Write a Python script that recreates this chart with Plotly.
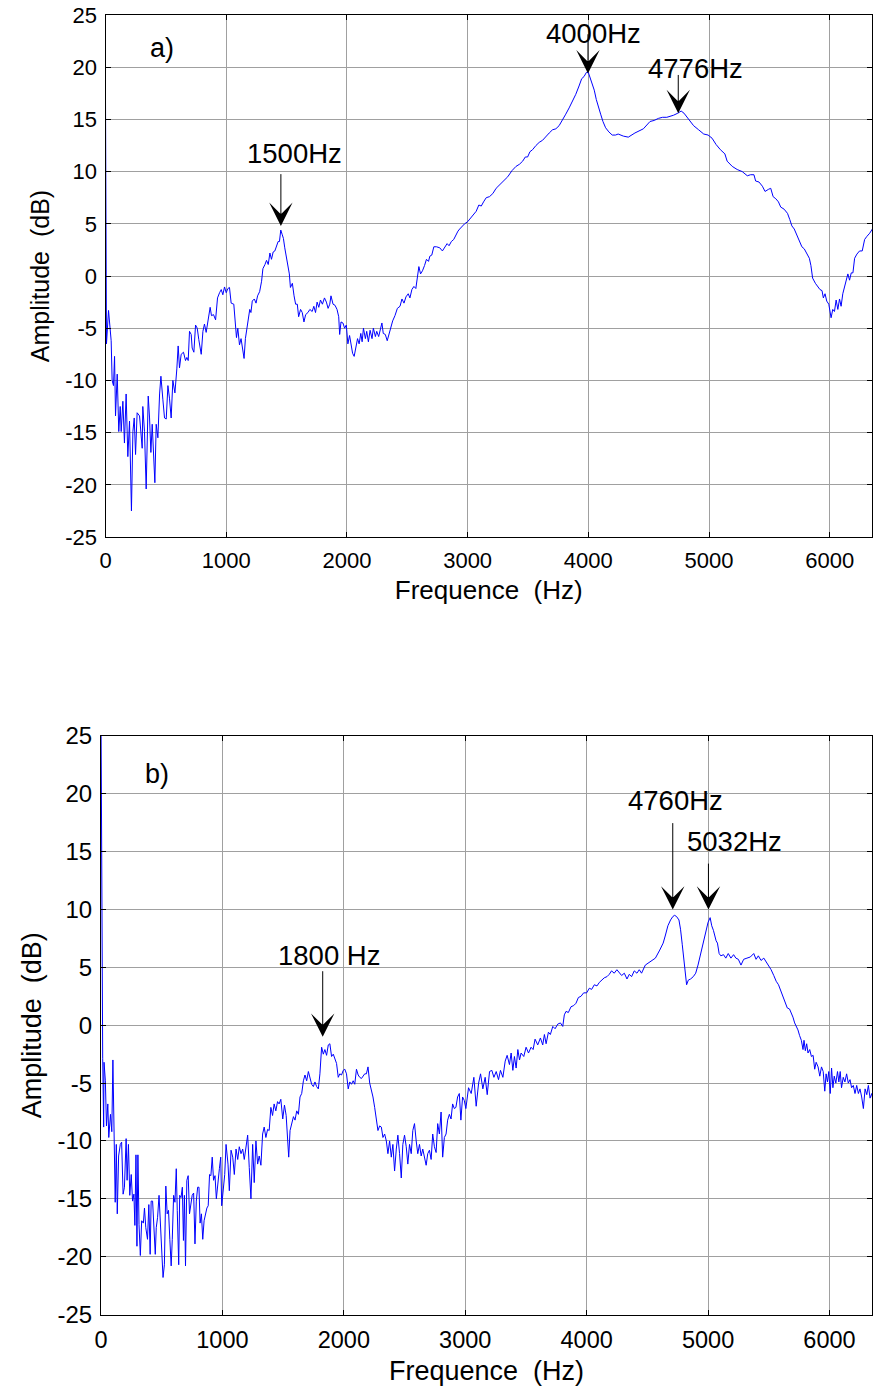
import plotly.graph_objects as go

# ---------------- data: panel a) ----------------
a_freq = [0, 5, 8, 25, 47, 55, 66, 75, 83, 97, 110, 122, 130, 144, 157, 171, 185, 199, 215, 227,
          238, 249, 262, 282, 304, 309, 323, 337, 354, 365, 376, 387, 398, 409, 420, 434, 448, 459,
          475, 489, 503, 517, 530, 544, 558, 575, 591, 602, 613, 627, 646, 663, 674, 685, 696, 710,
          718, 732, 746, 760, 773, 793, 807, 820, 834, 848, 867, 878, 895, 912, 928, 945, 959, 972,
          986, 1000, 1014, 1027, 1041, 1063, 1074, 1085, 1096, 1110, 1123, 1134, 1148, 1159, 1173,
          1184, 1195, 1205, 1216, 1233, 1247, 1260, 1277, 1293, 1304, 1321, 1334, 1348, 1362, 1375,
          1389, 1403, 1416, 1430, 1441, 1452, 1463, 1474, 1485, 1496, 1507, 1523, 1532, 1548, 1562,
          1575, 1589, 1600, 1616, 1630, 1644, 1658, 1677, 1693, 1712, 1726, 1740, 1753, 1767, 1781,
          1797, 1814, 1830, 1844, 1858, 1868, 1885, 1901, 1918, 1932, 1940, 1951, 1967, 1981, 1995,
          2008, 2022, 2033, 2047, 2060, 2074, 2088, 2101, 2115, 2126, 2137, 2153, 2164, 2178, 2192,
          2208, 2219, 2236, 2247, 2263, 2279, 2290, 2301, 2318, 2334, 2357, 2379, 2398, 2418, 2440,
          2456, 2473, 2489, 2508, 2522, 2538, 2555, 2571, 2582, 2596, 2610, 2626, 2643, 2659, 2676,
          2687, 2703, 2720, 2742, 2769, 2791, 2810, 2830, 2846, 2865, 2885, 2901, 2920, 2934, 2956,
          2975, 3000, 3022, 3044, 3071, 3093, 3113, 3132, 3154, 3181, 3209, 3236, 3264, 3297, 3332,
          3368, 3401, 3429, 3456, 3478, 3497, 3516, 3538, 3566, 3593, 3621, 3648, 3676, 3703, 3731,
          3758, 3786, 3813, 3841, 3868, 3896, 3923, 3945, 3964, 3984, 4000, 4016, 4033, 4049, 4066,
          4082, 4102, 4121, 4143, 4170, 4198, 4225, 4247, 4290, 4331, 4386, 4420, 4456, 4511, 4545,
          4581, 4615, 4650, 4680, 4706, 4742, 4769, 4792, 4817, 4844, 4872, 4914, 4956, 4992, 5025,
          5058, 5094, 5131, 5150, 5192, 5233, 5275, 5317, 5344, 5372, 5386, 5414, 5442, 5464, 5492,
          5511, 5531, 5553, 5575, 5594, 5622, 5650, 5669, 5686, 5706, 5725, 5747, 5769, 5789, 5808,
          5831, 5844, 5858, 5881, 5900, 5919, 5936, 5947, 5961, 5975, 5992, 6003, 6011, 6025, 6039,
          6053, 6067, 6081, 6094, 6108, 6122, 6136, 6150, 6164, 6178, 6192, 6206, 6225, 6247, 6269,
          6289, 6308, 6331, 6353]
a_amp = [17.0, 8.0, -6.5, -3.3, -6.2, -10.0, -10.5, -7.7, -13.4, -9.4, -14.9, -12.5, -14.9, -12.0,
         -16.0, -11.3, -17.3, -13.9, -22.5, -14.9, -13.6, -17.1, -13.1, -13.4, -16.5, -12.5, -14.9,
         -20.4, -11.5, -13.6, -16.9, -14.2, -16.8, -19.8, -14.2, -15.5, -11.3, -9.6, -11.8, -13.6,
         -13.7, -10.5, -11.7, -13.6, -10.0, -11.2, -8.9, -6.7, -8.8, -7.5, -7.3, -8.1, -7.8, -8.1,
         -5.3, -5.6, -6.9, -7.3, -4.7, -5.0, -6.1, -7.5, -5.3, -4.6, -5.4, -4.2, -3.0, -3.8, -3.7,
         -4.2, -2.1, -1.6, -1.3, -1.8, -1.05, -1.6, -1.2, -1.1, -2.6, -2.7, -4.8, -5.9, -5.0, -6.6,
         -6.0, -7.1, -7.9, -6.0, -5.0, -4.0, -3.2, -3.5, -2.4, -2.2, -2.6, -1.9, -1.5, -0.5, 0.7,
         1.1, 1.5, 1.1, 2.2, 1.6, 2.3, 2.4, 2.8, 3.3, 3.3, 4.4, 4.0, 3.6, 2.7, 1.9, 1.1, 0.2, -1.1,
         -0.7, -1.9, -2.7, -2.7, -3.9, -3.2, -3.5, -4.4, -3.7, -3.5, -3.2, -3.4, -2.9, -3.5, -2.5,
         -3.0, -2.3, -2.7, -2.1, -2.5, -3.1, -2.7, -1.9, -2.7, -2.8, -3.2, -3.9, -5.6, -4.4, -4.5,
         -5.0, -4.7, -6.5, -5.7, -6.6, -7.4, -7.7, -6.9, -6.0, -6.5, -5.5, -6.3, -5.0, -6.0, -5.3,
         -6.3, -5.2, -6.0, -5.0, -5.8, -5.3, -5.8, -5.0, -4.5, -5.5, -5.6, -6.2, -5.2, -4.3, -3.8,
         -3.1, -2.9, -2.2, -2.6, -2.0, -1.7, -2.1, -1.3, -1.0, -1.2, 0.0, 0.9, 0.2, 0.5, 1.0, 1.6,
         1.4, 1.9, 2.0, 2.8, 2.8, 2.7, 2.4, 2.8, 3.1, 2.9, 3.3, 3.5, 3.9, 4.3, 4.5, 4.8, 5.0, 5.2,
         5.5, 5.9, 6.2, 6.8, 6.7, 7.1, 7.5, 7.6, 7.9, 8.4, 8.7, 9.1, 9.5, 10.1, 10.5, 10.7, 11.0,
         11.4, 11.4, 11.9, 12.1, 12.5, 12.8, 13.0, 13.4, 13.7, 14.0, 14.1, 14.4, 14.9, 15.5, 16.1,
         16.7, 17.4, 18.2, 18.9, 19.1, 19.5, 19.5, 19.0, 18.3, 17.8, 16.9, 16.2, 15.5, 14.8, 14.2,
         13.8, 13.5, 13.5, 13.6, 13.4, 13.3, 13.7, 13.9, 14.1, 14.8, 14.9, 15.1, 15.2, 15.2, 15.3,
         15.4, 15.6, 15.8, 15.6, 15.2, 14.8, 14.4, 14.0, 13.6, 13.5, 13.2, 12.6, 12.1, 11.7, 11.0,
         10.5, 10.2, 10.0, 9.6, 9.7, 9.7, 9.1, 9.0, 8.6, 8.1, 8.3, 8.4, 7.6, 7.4, 7.1, 6.6, 6.4,
         6.0, 5.4, 4.8, 4.5, 4.0, 3.4, 2.8, 2.6, 2.2, 1.7, 1.0, -0.2, -0.7, -1.0, -1.3, -1.4, -2.1,
         -1.7, -2.4, -2.7, -3.4, -4.0, -3.2, -3.4, -2.3, -3.2, -2.2, -2.9, -1.7, -1.0, -0.2, 0.2,
         -0.4, 0.3, 0.3, 1.7, 2.1, 2.4, 2.4, 3.5, 3.8, 4.1, 4.5]

# ---------------- data: panel b) ----------------
b_freq = [0, 5, 14, 22, 25, 36, 45, 56, 64, 78, 89, 98, 106, 117, 126, 134, 145, 159, 170, 182,
          193, 207, 215, 226, 237, 249, 260, 271, 279, 288, 296, 304, 313, 324, 335, 349, 358, 369,
          383, 394, 405, 413, 425, 436, 447, 455, 466, 478, 489, 503, 511, 522, 534, 545, 556, 567,
          578, 587, 598, 609, 620, 628, 640, 648, 659, 670, 679, 687, 696, 707, 718, 729, 740, 751,
          763, 774, 785, 796, 807, 816, 827, 838, 849, 860, 872, 883, 894, 905, 916, 927, 939, 950,
          961, 975, 986, 994, 1019, 1030, 1046, 1057, 1071, 1085, 1098, 1112, 1126, 1139, 1153,
          1167, 1180, 1194, 1208, 1221, 1235, 1249, 1262, 1276, 1290, 1303, 1317, 1331, 1344, 1358,
          1372, 1385, 1399, 1413, 1426, 1440, 1454, 1467, 1481, 1497, 1511, 1525, 1538, 1546, 1557,
          1571, 1585, 1598, 1612, 1626, 1639, 1653, 1667, 1680, 1694, 1708, 1721, 1735, 1749, 1762,
          1776, 1790, 1803, 1817, 1831, 1844, 1858, 1872, 1885, 1899, 1913, 1926, 1940, 1954, 1967,
          1981, 1995, 2008, 2022, 2036, 2049, 2063, 2077, 2090, 2104, 2118, 2131, 2145, 2158, 2172,
          2186, 2199, 2213, 2227, 2240, 2254, 2268, 2281, 2295, 2309, 2322, 2336, 2350, 2363, 2377,
          2391, 2404, 2418, 2432, 2445, 2459, 2473, 2486, 2500, 2514, 2527, 2541, 2555, 2568, 2582,
          2596, 2609, 2623, 2637, 2650, 2664, 2678, 2691, 2705, 2719, 2732, 2746, 2760, 2773, 2787,
          2801, 2814, 2828, 2842, 2855, 2869, 2883, 2896, 2910, 2923, 2937, 2951, 2964, 2978, 2992,
          3005, 3027, 3049, 3071, 3090, 3110, 3126, 3145, 3164, 3181, 3200, 3219, 3236, 3255, 3274,
          3290, 3310, 3329, 3345, 3364, 3378, 3392, 3405, 3419, 3433, 3447, 3460, 3482, 3501, 3521,
          3542, 3559, 3575, 3597, 3619, 3638, 3652, 3666, 3685, 3701, 3721, 3740, 3762, 3784, 3803,
          3816, 3830, 3849, 3871, 3893, 3912, 3932, 3953, 3975, 4000, 4022, 4041, 4063, 4085, 4104,
          4123, 4145, 4167, 4186, 4205, 4227, 4249, 4268, 4288, 4310, 4332, 4351, 4370, 4392, 4414,
          4433, 4452, 4483, 4525, 4566, 4602, 4630, 4649, 4669, 4691, 4710, 4724, 4740, 4760, 4773,
          4787, 4801, 4815, 4823, 4837, 4856, 4878, 4898, 4917, 4939, 4961, 4981, 5000, 5017, 5030,
          5044, 5055, 5066, 5077, 5091, 5105, 5127, 5146, 5166, 5188, 5210, 5229, 5249, 5271, 5293,
          5320, 5348, 5376, 5395, 5414, 5436, 5459, 5478, 5497, 5519, 5541, 5561, 5580, 5597, 5616,
          5635, 5652, 5671, 5685, 5699, 5713, 5727, 5740, 5754, 5768, 5782, 5790, 5801, 5812, 5823,
          5837, 5851, 5865, 5878, 5890, 5906, 5920, 5934, 5948, 5961, 5972, 5983, 5994, 6006, 6017,
          6028, 6039, 6052, 6066, 6077, 6088, 6099, 6113, 6127, 6141, 6155, 6169, 6182, 6196, 6210,
          6224, 6238, 6251, 6265, 6279, 6293, 6307, 6320, 6334, 6348, 6361]
b_amp = [27.0, 12.0, -2.9, -8.8, -3.2, -4.8, -8.7, -6.8, -9.7, -7.7, -9.2, -3.0, -10.0, -15.3,
         -10.3, -16.3, -11.3, -10.3, -10.1, -14.6, -14.0, -9.8, -13.4, -10.3, -14.7, -12.9, -15.2,
         -14.6, -17.3, -11.2, -19.1, -11.2, -17.2, -19.9, -16.9, -17.1, -15.8, -17.5, -18.5, -15.5,
         -19.8, -15.2, -15.2, -18.4, -19.8, -17.5, -16.6, -14.7, -17.2, -19.5, -21.8, -20.7, -13.9,
         -16.3, -16.0, -18.5, -20.8, -18.5, -14.7, -15.3, -12.4, -16.0, -20.7, -14.7, -14.9, -14.0,
         -18.6, -14.7, -20.8, -13.4, -13.0, -16.3, -15.2, -14.7, -14.5, -18.9, -15.2, -14.0, -14.0,
         -17.1, -16.3, -18.5, -16.9, -16.3, -15.8, -15.6, -12.9, -13.0, -11.4, -13.4, -13.0, -15.0,
         -13.6, -12.4, -11.4, -15.6, -12.9, -10.3, -12.0, -14.3, -10.8, -11.4, -12.9, -10.7, -11.6,
         -10.5, -11.1, -10.7, -11.6, -10.5, -9.5, -12.3, -15.0, -10.3, -13.6, -10.0, -12.0, -11.3,
         -12.1, -9.4, -8.8, -9.7, -9.0, -9.1, -7.1, -7.8, -6.8, -7.4, -6.6, -6.8, -6.4, -8.1, -6.9,
         -7.8, -10.5, -11.4, -9.1, -8.5, -7.9, -8.2, -7.4, -7.7, -6.2, -5.9, -4.8, -4.3, -4.8, -4.0,
         -4.5, -5.1, -5.3, -4.9, -5.3, -5.5, -4.2, -1.9, -2.5, -2.1, -2.6, -1.7, -1.6, -2.7, -2.5,
         -3.0, -3.3, -4.5, -4.2, -4.3, -3.9, -3.8, -4.2, -5.5, -4.9, -5.1, -4.8, -5.1, -3.8, -4.3,
         -4.5, -4.6, -4.4, -4.2, -4.2, -3.6, -5.0, -5.6, -6.2, -7.1, -8.2, -9.1, -8.7, -8.8, -9.7,
         -9.4, -10.0, -11.1, -10.0, -11.4, -10.3, -12.6, -10.7, -9.5, -11.1, -13.2, -10.3, -9.5,
         -10.5, -12.0, -10.3, -11.1, -9.1, -8.5, -10.0, -11.1, -10.3, -11.3, -10.7, -11.6, -12.1,
         -11.1, -10.8, -11.6, -9.4, -10.5, -11.0, -8.5, -9.4, -7.5, -11.4, -9.7, -9.4, -8.2, -7.7,
         -8.1, -6.8, -7.2, -7.1, -6.2, -5.9, -8.2, -6.2, -6.5, -7.2, -5.4, -5.9, -4.5, -7.0, -5.0,
         -4.2, -5.5, -4.5, -6.0, -4.0, -3.9, -4.5, -4.0, -4.7, -3.9, -4.5, -3.1, -2.6, -3.4, -2.4,
         -3.9, -2.7, -3.7, -2.1, -3.0, -2.4, -2.7, -1.9, -2.4, -1.9, -2.1, -1.2, -1.7, -1.1, -1.7,
         -0.8, -1.6, -0.6, -0.8, -0.1, -0.3, 0.1, 0.2, -0.1, 0.9, 1.2, 1.1, 1.6, 1.7, 1.9, 2.4, 2.5,
         2.8, 2.8, 3.2, 3.1, 3.5, 3.4, 3.7, 3.9, 4.1, 4.2, 4.4, 4.7, 4.5, 4.8, 4.5, 4.3, 4.5, 4.0,
         4.4, 4.2, 4.7, 4.5, 4.8, 4.5, 5.2, 5.5, 5.8, 6.5, 7.1, 7.8, 8.6, 9.1, 9.4, 9.5, 9.4, 9.1,
         8.3, 7.0, 5.7, 4.5, 3.5, 3.9, 4.0, 4.2, 4.5, 5.2, 6.2, 7.3, 8.3, 8.9, 9.3, 8.6, 8.2, 7.6,
         7.3, 7.1, 6.2, 6.0, 6.1, 5.8, 6.2, 5.8, 6.1, 5.8, 5.7, 5.2, 5.7, 5.8, 5.9, 6.2, 5.7, 6.0,
         5.6, 5.8, 5.5, 5.2, 4.8, 4.3, 3.8, 3.5, 3.0, 2.5, 2.0, 1.5, 1.4, 1.1, 0.7, 0.2, -0.1, -0.4,
         -0.9, -1.3, -2.1, -1.3, -2.2, -1.6, -2.4, -2.1, -2.7, -2.6, -3.8, -3.2, -3.6, -4.4, -3.6,
         -4.0, -5.7, -4.2, -4.9, -4.0, -5.9, -3.7, -5.4, -4.4, -5.0, -4.0, -4.9, -4.0, -5.4, -4.5,
         -4.9, -4.2, -5.0, -4.7, -5.4, -5.2, -5.9, -5.2, -5.9, -5.5, -6.2, -7.2, -5.5, -6.0, -5.2,
         -6.3, -5.9, -6.7]

x_ticks = [0, 1000, 2000, 3000, 4000, 5000, 6000]
y_ticks = [-25, -20, -15, -10, -5, 0, 5, 10, 15, 20, 25]
y_tick_text = ["-25", "-20", "-15", "-10", "-5", "0", "5", "10", "15", "20", "25"]

# peak labels: (text, tip freq, tip dB, tail dB, text freq, text dB)
a_peaks = [("1500Hz", 1453, 4.8, 9.9, 1565, 11.7),
           ("4000Hz", 3997, 19.4, 23.3, 4045, 23.2),
           ("4776Hz", 4745, 15.6, 19.4, 4885, 19.9)]
b_peaks = [("1800 Hz", 1826, -1.0, 4.8, 1880, 6.0),
           ("4760Hz", 4709, 10.0, 17.6, 4735, 19.4),
           ("5032Hz", 5003, 10.0, 14.1, 5215, 15.9)]

W, H = 874, 1388
FONT = "Liberation Sans, Arial, sans-serif"

fig = go.Figure()
fig.add_trace(go.Scatter(x=a_freq, y=a_amp, mode="lines", line=dict(color="#0000FF", width=1),
                         xaxis="x", yaxis="y", showlegend=False, hoverinfo="skip"))
fig.add_trace(go.Scatter(x=b_freq, y=b_amp, mode="lines", line=dict(color="#0000FF", width=1),
                         xaxis="x2", yaxis="y2", showlegend=False, hoverinfo="skip"))


def xa(domain, tsize, hsize, standoff):
    return dict(domain=domain, range=[0, 6350], tickvals=x_ticks, ticks="inside", ticklen=5,
                tickcolor="black", mirror="allticks", showline=True, linecolor="black",
                linewidth=1, showgrid=True, gridcolor="#a0a0a0", gridwidth=1, zeroline=False,
                automargin=False, ticklabelstandoff=4,
                tickfont=dict(family=FONT, size=tsize, color="black"),
                title=dict(text="Frequence  (Hz)", font=dict(family=FONT, size=hsize, color="black"),
                           standoff=standoff))


def ya(domain, anchor, tsize, hsize, standoff):
    return dict(domain=domain, range=[-25, 25], tickvals=y_ticks, ticktext=y_tick_text,
                ticks="inside", ticklen=5,
                tickcolor="black", mirror="allticks", showline=True, linecolor="black",
                linewidth=1, showgrid=True, gridcolor="#a0a0a0", gridwidth=1, zeroline=False,
                anchor=anchor, automargin=False, ticklabelstandoff=3,
                tickfont=dict(family=FONT, size=tsize, color="black"),
                title=dict(text="Amplitude  (dB)", font=dict(family=FONT, size=hsize, color="black"),
                           standoff=standoff))


fig.update_layout(
    width=W, height=H, margin=dict(l=0, r=0, t=0, b=0, autoexpand=False),
    paper_bgcolor="white", plot_bgcolor="white",
    xaxis=dict(**xa([105.5 / W, 872 / W], 22, 26, 8), anchor="y"),
    yaxis=ya([1 - 537 / H, 1 - 15 / H], "x", 22, 25, 8),
    xaxis2=dict(**xa([101 / W, 872 / W], 23.5, 27, 9), anchor="y2"),
    yaxis2=ya([1 - 1314.5 / H, 1 - 736 / H], "x2", 24, 27, 8),
)

annotations = []
for peaks, xr, yr in ((a_peaks, "x", "y"), (b_peaks, "x2", "y2")):
    for text, fx, fy, tail, tx, ty in peaks:
        annotations.append(dict(x=fx, y=fy, xref=xr, yref=yr, ax=fx, ay=tail, axref=xr, ayref=yr,
                                text="", showarrow=True, arrowhead=3, arrowsize=3.9,
                                arrowwidth=1, arrowcolor="black"))
        annotations.append(dict(x=tx, y=ty, xref=xr, yref=yr, text=text, showarrow=False,
                                font=dict(family=FONT, size=27.5, color="black")))
annotations.append(dict(x=470, y=21.8, xref="x", yref="y", text="a)", showarrow=False,
                        font=dict(family=FONT, size=27, color="black")))
annotations.append(dict(x=465, y=21.7, xref="x2", yref="y2", text="b)", showarrow=False,
                        font=dict(family=FONT, size=27, color="black")))
fig.update_layout(annotations=annotations)

fig.write_html("out.html")
